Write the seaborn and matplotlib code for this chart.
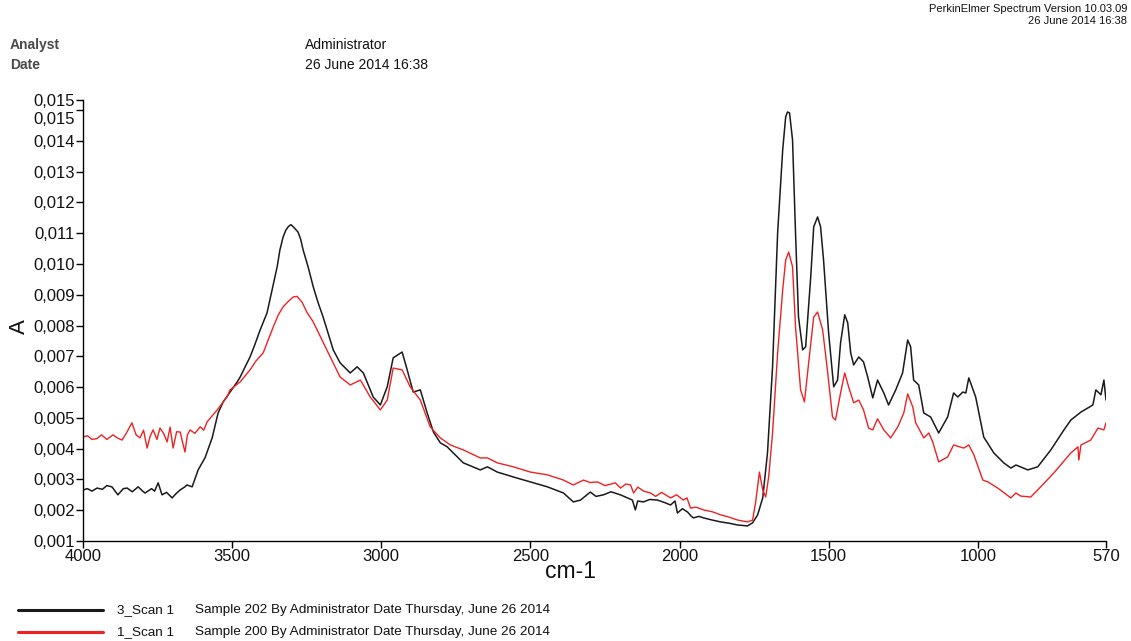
import numpy as np
import pandas as pd
import matplotlib
matplotlib.use("Agg")
import matplotlib.pyplot as plt
import matplotlib.transforms as mtransforms
from matplotlib.lines import Line2D
import seaborn as sns

# ---------------- data ----------------
black_wn = [4000, 3985, 3970, 3953, 3935, 3920, 3903, 3883, 3865, 3852, 3835, 3815, 3800, 3792,
            3770, 3760, 3748, 3735, 3720, 3701, 3690, 3674, 3660, 3651, 3634, 3614, 3591, 3567,
            3547, 3530, 3507, 3483, 3473, 3440, 3425, 3406, 3383, 3349, 3340, 3329, 3320, 3312,
            3303, 3295, 3279, 3270, 3262, 3245,
            3228, 3212, 3195, 3161, 3138, 3104, 3081, 3060, 3027, 3003, 2980, 2960, 2930, 2913, 2893,
            2869, 2846, 2825, 2802, 2779, 2725, 2668, 2644, 2611, 2557, 2500, 2443, 2389, 2356,
            2332, 2299, 2280, 2255, 2230, 2198, 2175, 2158, 2148, 2140, 2121, 2100, 2074, 2050,
            2030, 2015, 2007, 1990, 1973, 1960, 1953, 1935, 1919, 1890, 1862, 1835, 1805, 1772,
            1755, 1738, 1721, 1705, 1688, 1671, 1654, 1644, 1638, 1631, 1621, 1611, 1601, 1587,
            1577, 1560, 1550, 1537, 1527, 1517, 1500, 1483, 1470, 1460, 1446, 1436, 1426, 1416,
            1399, 1383, 1369, 1352, 1336, 1315, 1299, 1275, 1252, 1235, 1225, 1215, 1198, 1181,
            1158, 1131, 1101, 1081, 1067, 1050, 1040, 1030, 1007, 980, 946, 913, 889, 872, 832,
            799, 755, 711, 688, 654, 631, 614, 604, 587, 577, 570]
black_abs = [0.00266, 0.00270, 0.00262, 0.00272, 0.00268, 0.00280, 0.00276, 0.00250, 0.00270,
             0.00272, 0.00260, 0.00276, 0.00262, 0.00256, 0.00270, 0.00262, 0.00289, 0.00250,
             0.00258, 0.00240, 0.00252, 0.00266, 0.00275, 0.00282, 0.00276, 0.00331, 0.00370,
             0.00435, 0.00516, 0.00552, 0.00584, 0.00617, 0.00633, 0.00698, 0.00735, 0.00786,
             0.00841, 0.00991, 0.01045, 0.01088, 0.01110, 0.01121, 0.01128, 0.01121, 0.01104,
             0.01080, 0.01046, 0.00990,
             0.00926, 0.00875, 0.00828, 0.00721,
             0.00679, 0.00646, 0.00666, 0.00646, 0.00568, 0.00542, 0.00601, 0.00695, 0.00714,
             0.00656, 0.00584, 0.00591, 0.00516, 0.00454, 0.00419, 0.00406, 0.00354, 0.00331,
             0.00341, 0.00324, 0.00308, 0.00292, 0.00276, 0.00256, 0.00227, 0.00233, 0.00259,
             0.00245, 0.00250, 0.00260, 0.00250, 0.00240, 0.00233, 0.00201, 0.00230, 0.00227,
             0.00235, 0.00233, 0.00225, 0.00217, 0.00230, 0.00191, 0.00205, 0.00194, 0.00180,
             0.00175, 0.00180, 0.00175, 0.00168, 0.00162, 0.00158, 0.00152, 0.00149, 0.00159,
             0.00185, 0.00240, 0.00386, 0.00666, 0.01101, 0.01371, 0.01478, 0.01494, 0.01491,
             0.01403, 0.01101, 0.00828, 0.00721, 0.00731, 0.00958, 0.01121, 0.01153, 0.01121,
             0.01013, 0.00776, 0.00601, 0.00623, 0.00744, 0.00835, 0.00809, 0.00711, 0.00672,
             0.00698, 0.00682, 0.00633, 0.00565, 0.00623, 0.00581, 0.00542, 0.00591, 0.00646,
             0.00753, 0.00731, 0.00623, 0.00607, 0.00516, 0.00503, 0.00451, 0.00503, 0.00581,
             0.00568, 0.00584, 0.00581, 0.00630, 0.00568, 0.00438, 0.00386, 0.00354, 0.00337,
             0.00347, 0.00331, 0.00341, 0.00396, 0.00461, 0.00493, 0.00519, 0.00532, 0.00542,
             0.00591, 0.00575, 0.00623, 0.00558]

red_wn = [4000, 3985, 3970, 3953, 3938, 3920, 3899, 3885, 3869, 3852, 3836, 3822, 3809, 3797,
          3785, 3775, 3765, 3752, 3742, 3730, 3718, 3708, 3698, 3686, 3674, 3666, 3658, 3650,
          3641, 3625, 3607, 3595, 3584, 3550, 3517, 3507, 3473, 3440, 3420, 3396, 3362, 3345,
          3329, 3310, 3295, 3282, 3265,
          3248, 3230, 3215, 3171, 3138, 3104, 3070, 3037, 3003, 2980, 2960, 2930, 2903, 2869, 2836,
          2802, 2768, 2725, 2668, 2644, 2611, 2557, 2500, 2443, 2389, 2356, 2322, 2300, 2275,
          2250, 2215, 2198, 2180, 2164, 2154, 2140, 2120, 2097, 2080, 2060, 2030, 2010, 1987,
          1975, 1963, 1945, 1919, 1890, 1862, 1835, 1805, 1772, 1755, 1745, 1732, 1721, 1711,
          1701, 1688, 1671, 1654, 1644, 1634, 1621, 1611, 1594, 1581, 1567, 1550, 1537, 1520,
          1503, 1487, 1477, 1460, 1446, 1433, 1416, 1399, 1383, 1366, 1352, 1336, 1315, 1292,
          1268, 1248, 1235, 1218, 1208, 1181, 1164, 1151, 1131, 1101, 1081, 1047, 1030, 1013,
          983, 966, 933, 889, 872, 856, 822, 789, 745, 688, 664, 661, 654, 621, 597, 577, 570]
red_abs = [0.00438, 0.00442, 0.00430, 0.00433, 0.00445, 0.00430, 0.00445, 0.00435, 0.00428,
           0.00455, 0.00484, 0.00445, 0.00435, 0.00460, 0.00402, 0.00440, 0.00461, 0.00430,
           0.00467, 0.00450, 0.00422, 0.00470, 0.00402, 0.00455, 0.00454, 0.00420, 0.00389,
           0.00445, 0.00461, 0.00450, 0.00471, 0.00460, 0.00487, 0.00526, 0.00568, 0.00591,
           0.00617, 0.00656, 0.00685, 0.00711, 0.00796, 0.00835,
           0.00861, 0.00880, 0.00893, 0.00895, 0.00875,
           0.00841, 0.00815, 0.00786, 0.00698,
           0.00633, 0.00607, 0.00623, 0.00568, 0.00526, 0.00558, 0.00662, 0.00656, 0.00601,
           0.00558, 0.00471, 0.00435, 0.00412, 0.00396, 0.00370, 0.00370, 0.00354, 0.00341,
           0.00324, 0.00315, 0.00298, 0.00282, 0.00298, 0.00290, 0.00292, 0.00280, 0.00289,
           0.00272, 0.00285, 0.00282, 0.00256, 0.00275, 0.00262, 0.00256, 0.00245, 0.00258,
           0.00240, 0.00250, 0.00233, 0.00240, 0.00207, 0.00210, 0.00201, 0.00195, 0.00185,
           0.00178, 0.00168, 0.00162, 0.00168, 0.00224, 0.00324, 0.00266, 0.00243, 0.00308,
           0.00451, 0.00711, 0.00916, 0.01013, 0.01039, 0.00991, 0.00796, 0.00591, 0.00552,
           0.00679, 0.00828, 0.00844, 0.00786, 0.00646, 0.00503, 0.00493, 0.00581, 0.00646,
           0.00601, 0.00549, 0.00558, 0.00526, 0.00467, 0.00461, 0.00497, 0.00461, 0.00435,
           0.00471, 0.00516, 0.00578, 0.00536, 0.00484, 0.00435, 0.00451, 0.00422, 0.00357,
           0.00373, 0.00412, 0.00402, 0.00412, 0.00380, 0.00298, 0.00292, 0.00272, 0.00240,
           0.00256, 0.00246, 0.00243, 0.00276, 0.00321, 0.00386, 0.00406, 0.00363, 0.00412,
           0.00428, 0.00467, 0.00461, 0.00484]

series_names = ["3_Scan 1", "1_Scan 1"]
series_desc = ["Sample 202 By Administrator Date Thursday, June 26 2014",
               "Sample 200 By Administrator Date Thursday, June 26 2014"]
series_colors = ["#1a1a1a", "#ee2222"]
x_ticks = [4000, 3500, 3000, 2500, 2000, 1500, 1000, 570]
y_ticks = [0.001, 0.002, 0.003, 0.004, 0.005, 0.006, 0.007, 0.008, 0.009, 0.010,
           0.011, 0.012, 0.013, 0.014, 0.015]
y_top = 0.01533

# ---------------- style ----------------
sns.set_theme(style="white")
plt.rcParams["font.family"] = ["Liberation Sans", "DejaVu Sans"]

W, H = 1131, 641
fig = plt.figure(figsize=(W / 100, H / 100), dpi=100)
fig.patch.set_facecolor("white")
ax = fig.add_axes([83 / W, 1 - 541 / H, (1106 - 83) / W, (541 - 100) / H])
ax.set_facecolor("white")

df_b = pd.DataFrame({"wn": black_wn, "A": black_abs})
df_r = pd.DataFrame({"wn": red_wn, "A": red_abs})
sns.lineplot(data=df_b, x="wn", y="A", sort=False, estimator=None, color=series_colors[0],
             lw=1.1, ax=ax)
sns.lineplot(data=df_r, x="wn", y="A", sort=False, estimator=None, color=series_colors[1],
             lw=1.0, ax=ax)

ax.set_xlim(4000, 570)
ax.set_ylim(0.001, y_top)
ax.set_xlabel("")
ax.set_ylabel("")

for s in ["top", "right"]:
    ax.spines[s].set_visible(False)
for s in ["left", "bottom"]:
    ax.spines[s].set_color("black")
    ax.spines[s].set_linewidth(1.0)

ax.set_xticks(x_ticks)
ax.set_xticklabels([str(t) for t in x_ticks])
yt = y_ticks + [y_top]
ax.set_yticks(yt)
ax.set_yticklabels([f"{v:.3f}".replace(".", ",") for v in yt])
ax.tick_params(axis="both", which="major", direction="out", length=5, width=1,
               color="black", labelsize=12, labelcolor="#111111", pad=1,
               bottom=True, left=True)
# push the 0,015 tick label down so it does not collide with the top label
lbls = ax.get_yticklabels()
lbl = lbls[len(y_ticks) - 1]
lbl.set_transform(lbl.get_transform() +
                  mtransforms.ScaledTranslation(0, -0.075, fig.dpi_scale_trans))

# axis titles
fig.text(571 / W, 1 - 571 / H, "cm-1", fontsize=16.5, ha="center", va="center", color="#111111")
fig.text(19 / W, 1 - 327 / H, "A", fontsize=16, rotation=90, ha="center", va="center",
         color="#111111")

# header
fig.text(10 / W, 1 - 45 / H, "Analyst", fontsize=10, color="#4a4a4a", ha="left", va="center",
         fontweight="bold")
fig.text(10 / W, 1 - 65 / H, "Date", fontsize=10, color="#4a4a4a", ha="left", va="center",
         fontweight="bold")
fig.text(305 / W, 1 - 45 / H, "Administrator", fontsize=10, color="#111111", ha="left",
         va="center")
fig.text(305 / W, 1 - 65 / H, "26 June 2014 16:38", fontsize=10, color="#111111", ha="left",
         va="center")
fig.text(1127 / W, 1 - 9 / H, "PerkinElmer Spectrum Version 10.03.09", fontsize=8,
         color="#111111", ha="right", va="center")
fig.text(1127 / W, 1 - 21 / H, "26 June 2014 16:38", fontsize=8, color="#111111", ha="right",
         va="center")

# bottom legend
for i, (nm, desc, col) in enumerate(zip(series_names, series_desc, series_colors)):
    yy = 1 - (610 + 22 * i) / H
    fig.add_artist(Line2D([18 / W, 103 / W], [yy, yy], color=col, lw=2.2,
                          transform=fig.transFigure))
    fig.text(117 / W, yy, nm, fontsize=9.7, color="#111111", ha="left", va="center")
    fig.text(195 / W, yy, desc, fontsize=9.7, color="#111111", ha="left", va="center")

fig.savefig("out.png", dpi=100, facecolor="white")
